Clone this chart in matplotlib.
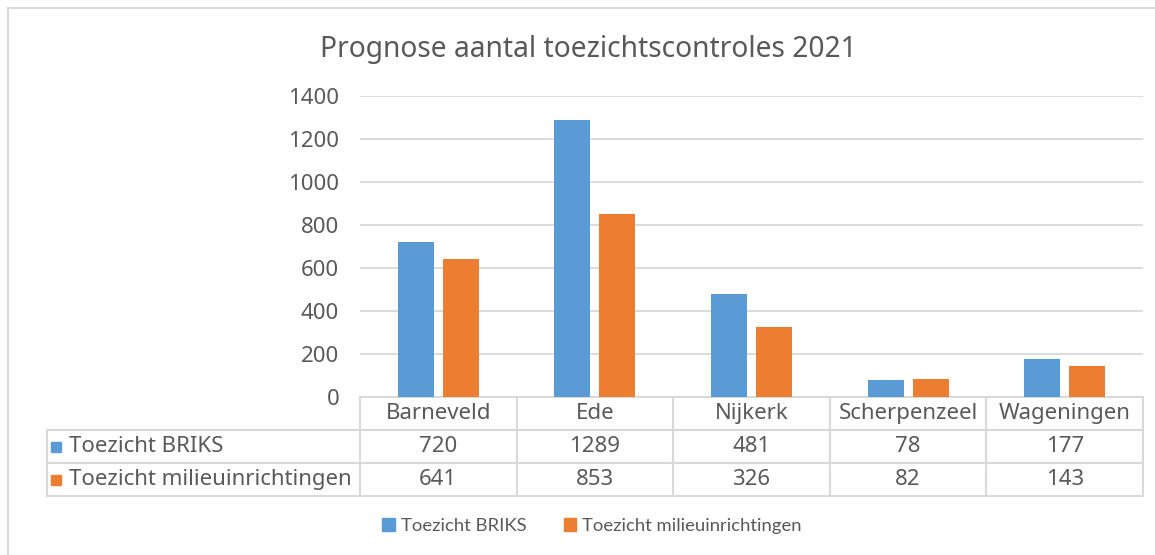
import numpy as np
import matplotlib.pyplot as plt
from matplotlib.lines import Line2D
from matplotlib.patches import Patch

# data
gemeenten = ['Barneveld', 'Ede', 'Nijkerk', 'Scherpenzeel', 'Wageningen']
briks = [720, 1289, 481, 78, 177]
milieu = [641, 853, 326, 82, 143]
series_names = ['Toezicht BRIKS', 'Toezicht milieuinrichtingen']
title = 'Prognose aantal toezichtscontroles 2021'

blue = '#5B9BD5'
orange = '#ED7D31'
txt = '#595959'
line_c = '#D9D9D9'

plt.rcParams['font.family'] = ['Noto Sans', 'DejaVu Sans']

W, H = 1155, 555
fig = plt.figure(figsize=(W / 100, H / 100), dpi=100)
ax = fig.add_axes([360 / W, (H - 397) / H, (1143 - 360) / W, (397 - 96) / H])

x = np.arange(len(gemeenten))
bw = 0.23
ax.bar(x - 0.144, briks, bw, color=blue, zorder=3)
ax.bar(x + 0.144, milieu, bw, color=orange, zorder=3)

ax.set_xlim(-0.5, len(gemeenten) - 0.5)
ax.set_ylim(0, 1400)
ax.set_yticks(np.arange(0, 1401, 200))
ax.set_xticks([])
ax.grid(axis='y', color=line_c, lw=1.3, zorder=0)
for s in ax.spines.values():
    s.set_visible(False)
ax.tick_params(axis='y', length=0, pad=15, labelsize=16, labelcolor=txt)

# data table below the plot
trans = ax.get_xaxis_transform()
h = 33 / 301
n = len(gemeenten)
left = -2.5
kw = dict(color=line_c, lw=1.5, transform=trans, clip_on=False)
ax.plot([-0.5, n - 0.5], [0, 0], **kw)
for k in range(1, 4):
    ax.plot([left, n - 0.5], [-k * h, -k * h], **kw)
ax.plot([left, left], [-h, -3 * h], **kw)
for k in range(n + 1):
    ax.plot([k - 0.5, k - 0.5], [0, -3 * h], **kw)

fs = 16
for i, g in enumerate(gemeenten):
    ax.text(i, -0.5 * h, g, transform=trans, ha='center', va='center', fontsize=fs, color=txt)
    ax.text(i, -1.5 * h, str(briks[i]), transform=trans, ha='center', va='center', fontsize=fs, color=txt)
    ax.text(i, -2.5 * h, str(milieu[i]), transform=trans, ha='center', va='center', fontsize=fs, color=txt)

for r, (name, col) in enumerate(zip(series_names, [blue, orange])):
    yy = -(1.5 + r) * h
    ax.plot([left + 0.06], [yy], marker='s', ms=7, color=col, transform=trans, clip_on=False)
    ax.text(left + 0.14, yy, name, transform=trans, ha='left', va='center', fontsize=fs, color=txt)

fig.text(588 / W, 1 - 49 / H, title, ha='center', va='center', fontsize=20.3, color=txt)

handles = [Patch(color=blue, label=series_names[0]), Patch(color=orange, label=series_names[1])]
leg = fig.legend(handles=handles, loc='center', bbox_to_anchor=(592 / W, 1 - 526 / H), ncol=2,
                 frameon=False, handlelength=0.7, handleheight=0.7, handletextpad=0.3,
                 columnspacing=2.0, prop={'family': 'Lato', 'size': 13.3})
for t in leg.get_texts():
    t.set_color(txt)

# chart area border
fig.add_artist(Line2D([8 / W, 8 / W], [0, 1 - 8 / H], color=line_c, lw=1.5, transform=fig.transFigure))
fig.add_artist(Line2D([8 / W, 1], [1 - 8 / H, 1 - 8 / H], color=line_c, lw=1.5, transform=fig.transFigure))

fig.savefig('out.png', dpi=100, facecolor='white')
